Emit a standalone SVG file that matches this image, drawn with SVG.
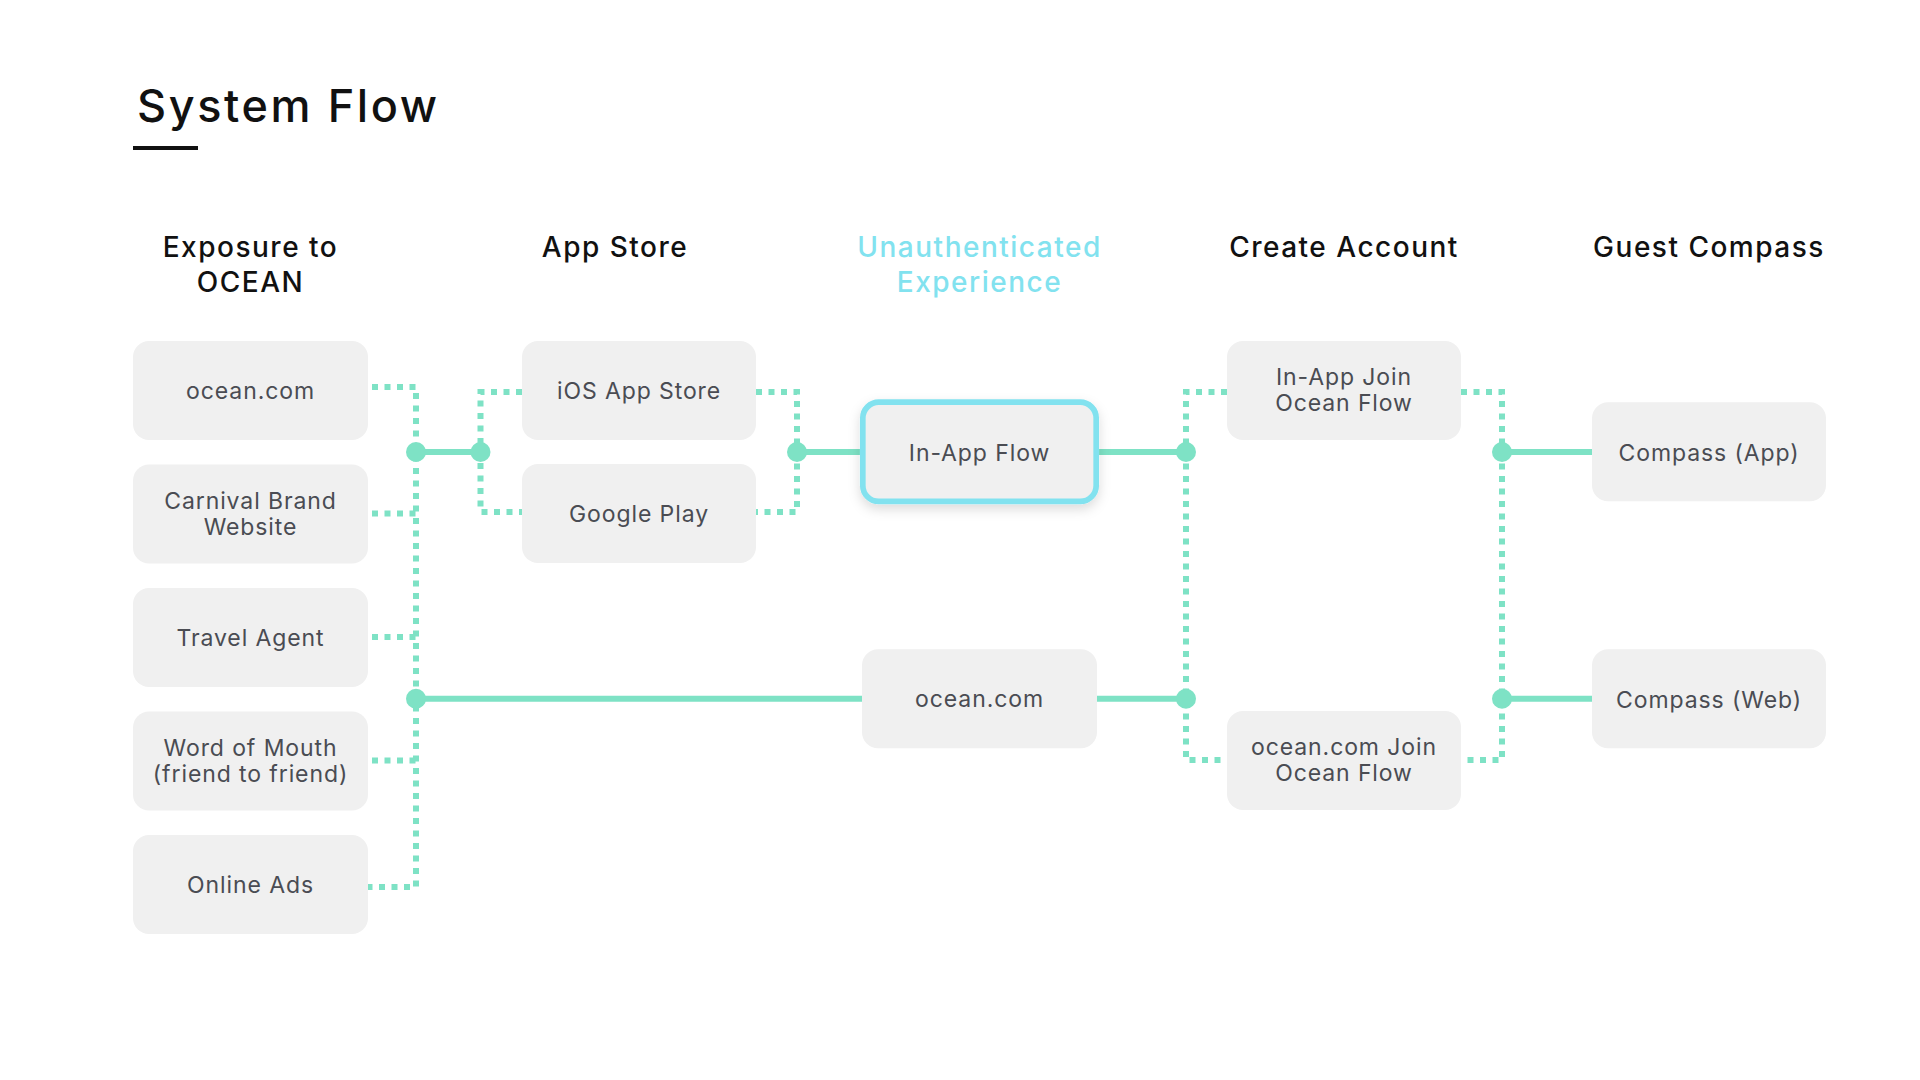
<svg xmlns="http://www.w3.org/2000/svg" width="1920" height="1080" viewBox="0 0 1920 1080">
  <style>
    .title { font-family: Inter, "Liberation Sans", sans-serif; font-size: 45px; font-weight: 500; fill: #111111; letter-spacing: 2.6px; }
    .head { font-family: Inter, "Liberation Sans", sans-serif; font-size: 28px; font-weight: 500; fill: #111111; text-anchor: middle; letter-spacing: 1.5px; }
    .head.hl { fill: #82E2EF; }
    .box { fill: #F0F0F0; }
    .lbl { font-family: Inter, "Liberation Sans", sans-serif; font-size: 23px; fill: #4A4C53; text-anchor: middle; letter-spacing: 0.9px; }
    .dot { fill: none; stroke: #7EE2C5; stroke-width: 6; stroke-dasharray: 6 6.5; }
    .solid { fill: none; stroke: #7EE2C5; stroke-width: 6; }
    .jn { fill: #7EE2C5; }
  </style>
  <defs>
    <filter id="sh" x="-20%" y="-30%" width="140%" height="170%">
      <feDropShadow dx="0" dy="5" stdDeviation="6" flood-color="#000000" flood-opacity="0.14"/>
    </filter>
  </defs>
  <rect width="1920" height="1080" fill="#FFFFFF"/>

  <g id="title">
    <text class="title" x="137" y="122">System Flow</text>
    <rect x="133" y="146" width="65" height="4" fill="#111111"/>
  </g>

  <g id="headers">
    <text class="head" x="250.5" y="257">Exposure to</text>
    <text class="head" x="250.5" y="292">OCEAN</text>
    <text class="head" x="615" y="257">App Store</text>
    <text class="head hl" x="979.5" y="257">Unauthenticated</text>
    <text class="head hl" x="979.5" y="292">Experience</text>
    <text class="head" x="1344" y="257">Create Account</text>
    <text class="head" x="1709" y="257">Guest Compass</text>
  </g>

  <g id="connectors">
    <path class="dot" d="M372,387 H416 V887 H368"/>
    <path class="dot" d="M372,513.5 H416"/>
    <path class="dot" d="M372,637 H416"/>
    <path class="dot" d="M372,760.5 H416"/>
    <path class="dot" d="M522,392 H480.5 V512 H522"/>
    <path class="dot" d="M756,392 H797 V512 H756"/>
    <path class="dot" d="M1227,392 H1186 V760 H1227"/>
    <path class="dot" d="M1461,392 H1502 V760 H1461"/>
    <path class="solid" d="M416,452 H480.5"/>
    <path class="solid" d="M416,698.7 H862"/>
    <path class="solid" d="M797,452 H862"/>
    <path class="solid" d="M1097,452 H1186"/>
    <path class="solid" d="M1097,698.7 H1186"/>
    <path class="solid" d="M1502,452 H1592"/>
    <path class="solid" d="M1502,698.7 H1592"/>
    <circle class="jn" cx="416" cy="452" r="10"/>
    <circle class="jn" cx="480.5" cy="452" r="10"/>
    <circle class="jn" cx="416" cy="698.7" r="10"/>
    <circle class="jn" cx="797" cy="452" r="10"/>
    <circle class="jn" cx="1186" cy="452" r="10"/>
    <circle class="jn" cx="1186" cy="698.7" r="10"/>
    <circle class="jn" cx="1502" cy="452" r="10"/>
    <circle class="jn" cx="1502" cy="698.7" r="10"/>
  </g>

  <g id="n-ocean-com">
    <rect class="box" x="133" y="341" width="235" height="99" rx="16"/>
    <text class="lbl" x="250.5" y="398.5">ocean.com</text>
  </g>
  <g id="n-carnival">
    <rect class="box" x="133" y="464.5" width="235" height="99" rx="16"/>
    <text class="lbl" x="250.5" y="508.5">Carnival Brand</text>
    <text class="lbl" x="250.5" y="534.5">Website</text>
  </g>
  <g id="n-travel-agent">
    <rect class="box" x="133" y="588" width="235" height="99" rx="16"/>
    <text class="lbl" x="250.5" y="646">Travel Agent</text>
  </g>
  <g id="n-word-of-mouth">
    <rect class="box" x="133" y="711.5" width="235" height="99" rx="16"/>
    <text class="lbl" x="250.5" y="755.5">Word of Mouth</text>
    <text class="lbl" x="250.5" y="781.5">(friend to friend)</text>
  </g>
  <g id="n-online-ads">
    <rect class="box" x="133" y="835" width="235" height="99" rx="16"/>
    <text class="lbl" x="250.5" y="893">Online Ads</text>
  </g>

  <g id="n-ios">
    <rect class="box" x="522" y="341" width="234" height="99" rx="16"/>
    <text class="lbl" x="639" y="398.5">iOS App Store</text>
  </g>
  <g id="n-google">
    <rect class="box" x="522" y="464" width="234" height="99" rx="16"/>
    <text class="lbl" x="639" y="522">Google Play</text>
  </g>

  <g id="n-in-app-flow">
    <rect x="862.8" y="402.2" width="233.4" height="99.2" rx="16" fill="#F0F0F0" stroke="#82E2EF" stroke-width="5.7" filter="url(#sh)"/>
    <text class="lbl" x="979.5" y="460.5">In-App Flow</text>
  </g>
  <g id="n-ocean-com-web">
    <rect class="box" x="862" y="649.3" width="235" height="99" rx="16"/>
    <text class="lbl" x="979.5" y="707.3">ocean.com</text>
  </g>

  <g id="n-in-app-join">
    <rect class="box" x="1227" y="341" width="234" height="99" rx="16"/>
    <text class="lbl" x="1344" y="385">In-App Join</text>
    <text class="lbl" x="1344" y="411">Ocean Flow</text>
  </g>
  <g id="n-ocean-join">
    <rect class="box" x="1227" y="711" width="234" height="99" rx="16"/>
    <text class="lbl" x="1344" y="755">ocean.com Join</text>
    <text class="lbl" x="1344" y="781">Ocean Flow</text>
  </g>

  <g id="n-compass-app">
    <rect class="box" x="1592" y="402.3" width="234" height="99" rx="16"/>
    <text class="lbl" x="1709" y="460.5">Compass (App)</text>
  </g>
  <g id="n-compass-web">
    <rect class="box" x="1592" y="649.3" width="234" height="99" rx="16"/>
    <text class="lbl" x="1709" y="707.5">Compass (Web)</text>
  </g>
</svg>
